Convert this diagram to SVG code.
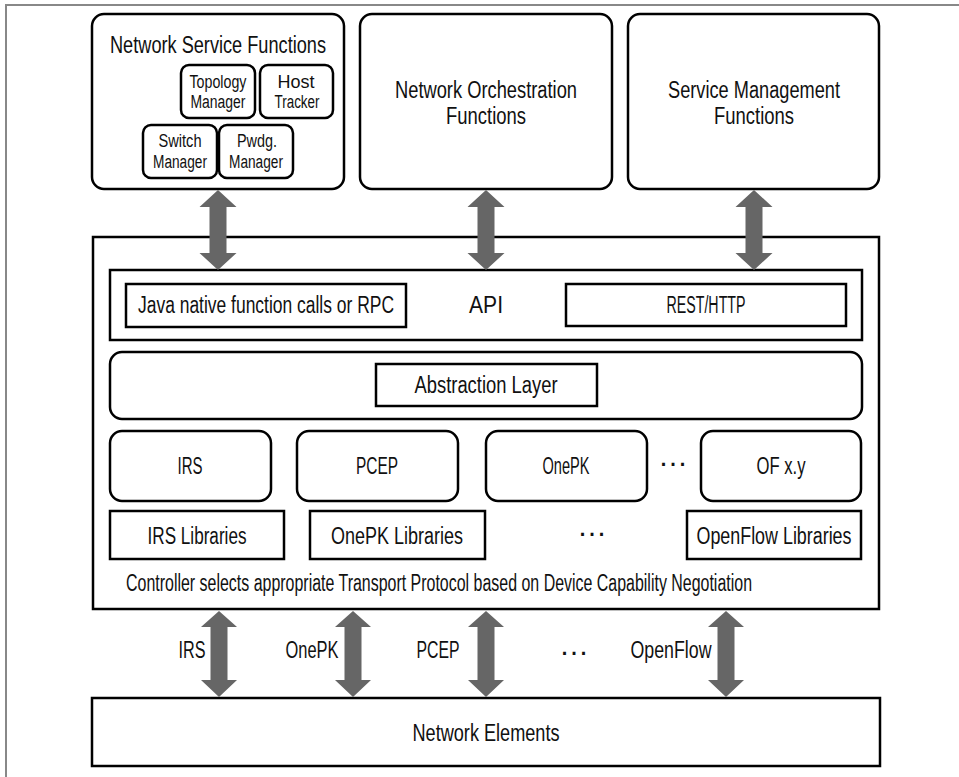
<svg xmlns="http://www.w3.org/2000/svg" width="959" height="777" viewBox="0 0 959 777">
<style>
  .box{fill:#fff;stroke:#000;stroke-width:2.5}
  .t{font-family:"Liberation Sans Narrow","Liberation Sans",Arial,sans-serif;font-size:23px;fill:#111;text-anchor:middle}
  .s{font-size:18px}
  .dots{font-family:"Liberation Sans",Arial,sans-serif;font-size:30px;fill:#111;text-anchor:middle}
  .arr{fill:#666}
  .frame{stroke:#888;stroke-width:2;fill:none}
</style>
<rect width="959" height="777" fill="#fff"/>
<path class="frame" d="M6,777 V5 H959"/>

<g id="network-service-functions">
  <rect class="box" x="92" y="14" width="252" height="175" rx="12"/>
  <text class="t" x="218" y="53" textLength="216" lengthAdjust="spacingAndGlyphs">Network Service Functions</text>
  <g id="topology-manager">
    <rect class="box" x="181" y="65" width="74" height="53" rx="8"/>
    <text class="t s" x="218" y="88" textLength="57" lengthAdjust="spacingAndGlyphs">Topology</text>
    <text class="t s" x="218" y="108" textLength="55" lengthAdjust="spacingAndGlyphs">Manager</text>
  </g>
  <g id="host-tracker">
    <rect class="box" x="260" y="65" width="73" height="53" rx="8"/>
    <text class="t s" x="296" y="88" textLength="37" lengthAdjust="spacingAndGlyphs">Host</text>
    <text class="t s" x="297" y="108" textLength="45" lengthAdjust="spacingAndGlyphs">Tracker</text>
  </g>
  <g id="switch-manager">
    <rect class="box" x="143" y="125" width="74" height="53" rx="8"/>
    <text class="t s" x="180" y="147" textLength="43" lengthAdjust="spacingAndGlyphs">Switch</text>
    <text class="t s" x="180" y="168" textLength="54" lengthAdjust="spacingAndGlyphs">Manager</text>
  </g>
  <g id="pwdg-manager">
    <rect class="box" x="219" y="125" width="74" height="53" rx="8"/>
    <text class="t s" x="257" y="147" textLength="40" lengthAdjust="spacingAndGlyphs">Pwdg.</text>
    <text class="t s" x="256" y="168" textLength="54" lengthAdjust="spacingAndGlyphs">Manager</text>
  </g>
</g>

<g id="network-orchestration-functions">
  <rect class="box" x="360" y="14" width="252" height="175" rx="12"/>
  <text class="t" x="486" y="98" textLength="182" lengthAdjust="spacingAndGlyphs">Network Orchestration</text>
  <text class="t" x="486" y="124" textLength="80" lengthAdjust="spacingAndGlyphs">Functions</text>
</g>

<g id="service-management-functions">
  <rect class="box" x="628" y="14" width="251" height="175" rx="12"/>
  <text class="t" x="754" y="98" textLength="172" lengthAdjust="spacingAndGlyphs">Service Management</text>
  <text class="t" x="754" y="124" textLength="80" lengthAdjust="spacingAndGlyphs">Functions</text>
</g>

<g id="controller">
  <rect class="box" x="93" y="237" width="786" height="372"/>
  <text class="t" x="439" y="591" textLength="626" lengthAdjust="spacingAndGlyphs">Controller selects appropriate Transport Protocol based on Device Capability Negotiation</text>
</g>

<g id="api">
  <rect class="box" x="110" y="270" width="752" height="70"/>
  <text class="t" x="486" y="313" textLength="34" lengthAdjust="spacingAndGlyphs">API</text>
  <g id="java-rpc">
    <rect class="box" x="126" y="284" width="280" height="43"/>
    <text class="t" x="266" y="313" textLength="256" lengthAdjust="spacingAndGlyphs">Java native function calls or RPC</text>
  </g>
  <g id="rest-http">
    <rect class="box" x="566" y="284" width="280" height="42"/>
    <text class="t" x="706" y="313" textLength="79" lengthAdjust="spacingAndGlyphs">REST/HTTP</text>
  </g>
</g>

<g id="abstraction">
  <rect class="box" x="110" y="352" width="752" height="67" rx="12"/>
  <g id="abstraction-layer">
    <rect class="box" x="376" y="364" width="221" height="42"/>
    <text class="t" x="486" y="393" textLength="143" lengthAdjust="spacingAndGlyphs">Abstraction Layer</text>
  </g>
</g>

<g id="irs">
  <rect class="box" x="110" y="431" width="161" height="70" rx="12"/>
  <text class="t" x="190" y="474" textLength="25" lengthAdjust="spacingAndGlyphs">IRS</text>
</g>
<g id="pcep">
  <rect class="box" x="297" y="431" width="161" height="70" rx="12"/>
  <text class="t" x="377" y="474" textLength="42" lengthAdjust="spacingAndGlyphs">PCEP</text>
</g>
<g id="onepk">
  <rect class="box" x="486" y="431" width="161" height="70" rx="12"/>
  <text class="t" x="566" y="474" textLength="47" lengthAdjust="spacingAndGlyphs">OnePK</text>
</g>
<text class="dots" x="673" y="466">…</text>
<g id="of-xy">
  <rect class="box" x="701" y="431" width="160" height="70" rx="12"/>
  <text class="t" x="781" y="474" textLength="49" lengthAdjust="spacingAndGlyphs">OF x.y</text>
</g>

<g id="irs-libraries">
  <rect class="box" x="110" y="511" width="174" height="48"/>
  <text class="t" x="197" y="544" textLength="99" lengthAdjust="spacingAndGlyphs">IRS Libraries</text>
</g>
<g id="onepk-libraries">
  <rect class="box" x="310" y="511" width="175" height="48"/>
  <text class="t" x="397" y="544" textLength="132" lengthAdjust="spacingAndGlyphs">OnePK Libraries</text>
</g>
<text class="dots" x="592" y="536">…</text>
<g id="openflow-libraries">
  <rect class="box" x="687" y="511" width="174" height="48"/>
  <text class="t" x="774" y="544" textLength="155" lengthAdjust="spacingAndGlyphs">OpenFlow Libraries</text>
</g>

<g id="network-elements">
  <rect class="box" x="92" y="698" width="788" height="68"/>
  <text class="t" x="486" y="741" textLength="147" lengthAdjust="spacingAndGlyphs">Network Elements</text>
</g>

<g id="connectors">
  <polygon class="arr" points="218,190 236.5,207 226.5,207 226.5,253 236.5,253 218,270 199.5,253 209.5,253 209.5,207 199.5,207"/>
  <polygon class="arr" points="486,190 504.5,207 494.5,207 494.5,253 504.5,253 486,270 467.5,253 477.5,253 477.5,207 467.5,207"/>
  <polygon class="arr" points="754,190 772.5,207 762.5,207 762.5,253 772.5,253 754,270 735.5,253 745.5,253 745.5,207 735.5,207"/>
  <polygon class="arr" points="219,611 237,627 227.5,627 227.5,680 237,680 219,697 201,680 210.5,680 210.5,627 201,627"/>
  <polygon class="arr" points="353,611 371,627 361.5,627 361.5,680 371,680 353,697 335,680 344.5,680 344.5,627 335,627"/>
  <polygon class="arr" points="486,611 504,627 494.5,627 494.5,680 504,680 486,697 468,680 477.5,680 477.5,627 468,627"/>
  <polygon class="arr" points="726,611 744,627 734.5,627 734.5,680 744,680 726,697 708,680 717.5,680 717.5,627 708,627"/>
  <text class="t" x="192" y="658" textLength="27" lengthAdjust="spacingAndGlyphs">IRS</text>
  <text class="t" x="312" y="658" textLength="53" lengthAdjust="spacingAndGlyphs">OnePK</text>
  <text class="t" x="438" y="658" textLength="43" lengthAdjust="spacingAndGlyphs">PCEP</text>
  <text class="dots" x="574" y="655">…</text>
  <text class="t" x="671" y="658" textLength="81" lengthAdjust="spacingAndGlyphs">OpenFlow</text>
</g>
</svg>
